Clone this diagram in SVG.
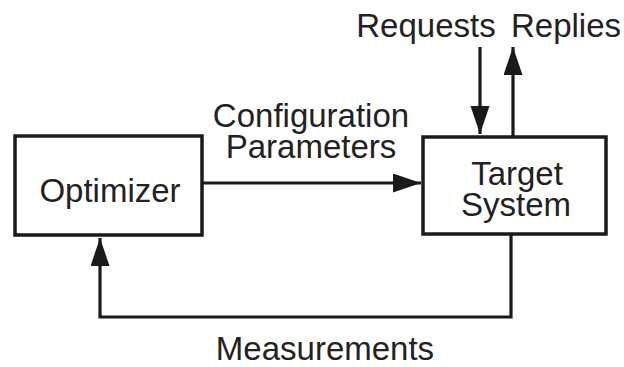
<svg xmlns="http://www.w3.org/2000/svg" width="624" height="367" viewBox="0 0 624 367">
<defs>
<style>
.box{fill:#fff;stroke:#1a1a1a;stroke-width:3.5}
.lbl{font-family:"Liberation Sans",Arial,sans-serif;font-size:33px;fill:#222;text-anchor:middle}
.ln{fill:none;stroke:#1a1a1a;stroke-width:3.2}
</style>
<marker id="ah" markerUnits="userSpaceOnUse" markerWidth="30" markerHeight="20" refX="28" refY="9.5" orient="auto">
<path d="M0,0 L28,9.5 L0,19 Z" fill="#1a1a1a"/>
</marker>
</defs>
<rect width="624" height="367" fill="#fff"/>
<g id="connectors">
<line class="ln" x1="202" y1="183" x2="421" y2="183" marker-end="url(#ah)"/>
<line class="ln" x1="480" y1="47" x2="480" y2="134" marker-end="url(#ah)"/>
<line class="ln" x1="513" y1="137" x2="513" y2="47" marker-end="url(#ah)"/>
<polyline class="ln" points="511,234 511,317 100,317 100,238" marker-end="url(#ah)"/>
<text class="lbl" x="311" y="127">Configuration</text>
<text class="lbl" x="311" y="158">Parameters</text>
<text class="lbl" x="426" y="37">Requests</text>
<text class="lbl" x="566" y="37">Replies</text>
<text class="lbl" x="325" y="360">Measurements</text>
</g>
<g id="optimizer">
<rect class="box" x="15" y="136" width="187" height="99"/>
<text class="lbl" x="110" y="202">Optimizer</text>
</g>
<g id="target">
<rect class="box" x="423" y="137" width="183" height="97"/>
<text class="lbl" x="517" y="185">Target</text>
<text class="lbl" x="516" y="216">System</text>
</g>
</svg>
